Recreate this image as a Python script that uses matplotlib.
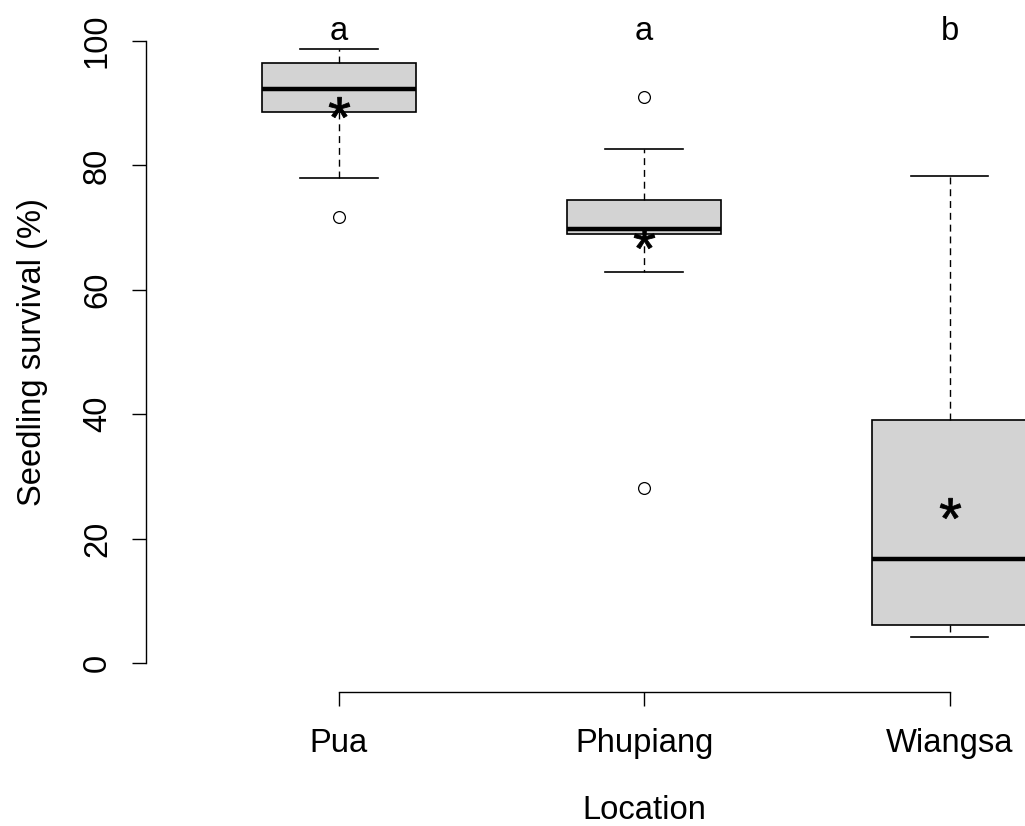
import matplotlib
matplotlib.use("Agg")
import matplotlib.pyplot as plt
import numpy as np
from matplotlib.textpath import TextPath
from matplotlib.font_manager import FontProperties
from matplotlib.path import Path

plt.rcParams['font.family'] = ['Liberation Sans', 'DejaVu Sans']

# values (Seedling survival, %)
locations = ['Pua', 'Phupiang', 'Wiangsa']
q1 = [88.6, 68.9, 6.1]
median = [92.3, 69.7, 16.7]
q3 = [96.5, 74.5, 39.1]
whisker_low = [78.0, 62.8, 4.1]
whisker_high = [98.7, 82.6, 78.3]
outliers = [[71.7], [91.0, 28.2], []]
means = [89.45, 68.4, 24.9]
letters = ['a', 'a', 'b']

stats = []
for i, name in enumerate(locations):
    stats.append({'label': name, 'med': median[i], 'q1': q1[i], 'q3': q3[i],
                  'whislo': whisker_low[i], 'whishi': whisker_high[i],
                  'fliers': outliers[i], 'mean': means[i]})

FS = 23.6
left_px = 146
fig = plt.figure(figsize=(10.25, 8.26), dpi=100)
ax = fig.add_axes([left_px / 1025, (826 - 691.5) / 826, (1025 - left_px) / 1025, 691.5 / 826])

pos = np.arange(1, len(locations) + 1)
ax.bxp(stats, positions=pos, widths=0.505, patch_artist=True,
       showmeans=False, capwidths=0.255,
       boxprops=dict(facecolor='#d3d3d3', edgecolor='black', linewidth=1.2),
       medianprops=dict(color='black', linewidth=3.2),
       whiskerprops=dict(color='black', linewidth=1.0, linestyle=(0, (5, 3.5))),
       capprops=dict(color='black', linewidth=1.2),
       flierprops=dict(marker='o', markerfacecolor='none', markeredgecolor='black',
                       markersize=8.5, markeredgewidth=0.9))

# asterisk marker for the means, centred on its ink
tp = TextPath((0, 0), '*', prop=FontProperties(family='Liberation Sans'))
ext = tp.get_extents()
v = tp.vertices - np.array([(ext.x0 + ext.x1) / 2, (ext.y0 + ext.y1) / 2])
v[tp.codes == Path.CLOSEPOLY] = 0  # ignored points, keep them off the scale
star = Path(v, tp.codes)
ax.plot(pos, means, linestyle='none', marker=star, markersize=15,
        color='black', markeredgecolor='black', markeredgewidth=0.6)

for i, lt in enumerate(letters):
    ax.text(pos[i], 100.1, lt, ha='center', va='baseline', fontsize=FS)

ax.set_xlim(1 - (339 - left_px) / 305.25, 3 + 75.5 / 305.25)
ax.set_ylim(-28.5 / 6.22, 663 / 6.22)

for s in ['top', 'right']:
    ax.spines[s].set_visible(False)
ax.spines['left'].set_bounds(0, 100)
ax.spines['bottom'].set_bounds(1, 3)
ax.spines['left'].set_linewidth(1.0)
ax.spines['bottom'].set_linewidth(1.0)

ax.set_xticks(pos)
ax.set_xticklabels(locations)
ax.set_yticks([0, 20, 40, 60, 80, 100])
ax.tick_params(axis='both', direction='out', length=10, width=1.0, labelsize=FS)
ax.tick_params(axis='x', pad=16.5)
ax.tick_params(axis='y', pad=13.8, labelrotation=90)
for lab in ax.get_yticklabels():
    lab.set_va('center')

ax.set_xlabel('Location', fontsize=FS)
ax.set_ylabel('Seedling survival (%)', fontsize=FS)
ax.xaxis.set_label_coords((644 - left_px) / (1025 - left_px), -0.150)
ax.yaxis.set_label_coords((48 - left_px) / (1025 - left_px), (691.5 - 352) / 691.5)

fig.savefig('out.png', dpi=100)
